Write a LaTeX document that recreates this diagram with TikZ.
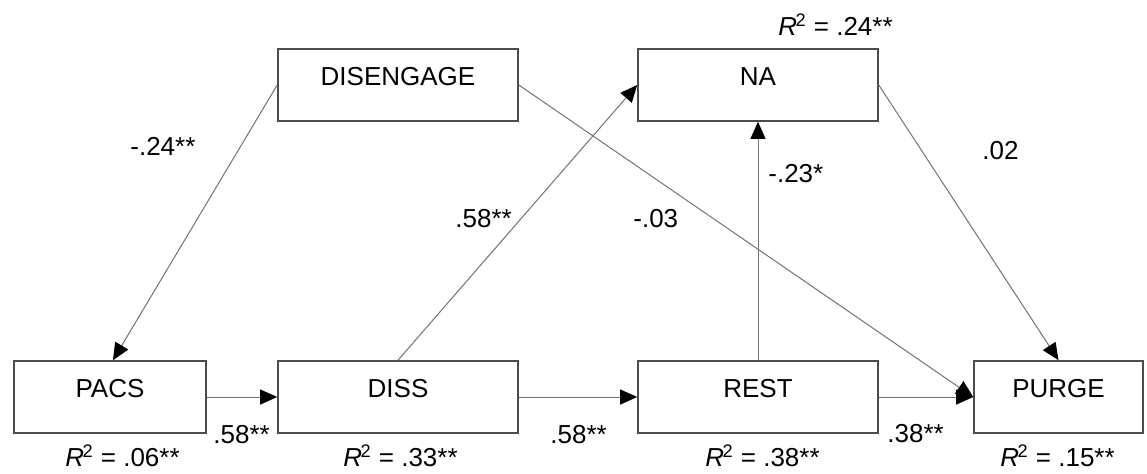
\documentclass[tikz,border=0pt]{standalone}
\usepackage{fontspec}
\setmainfont{Liberation Sans}
\usetikzlibrary{arrows.meta}
\newcommand\rsq[1]{\textit{R}\kern-0.8pt\textsuperscript{2} = #1}
\begin{document}
\begin{tikzpicture}[x=0.5pt,y=-0.5pt,
  txt/.style={font=\fontsize{13}{15}\selectfont},
  var/.style={txt, draw=black!70, line width=0.8pt, rectangle,
    minimum width=120pt, minimum height=36pt, inner sep=0pt,
    text height=5pt, text depth=5pt},
  coef/.style={txt, inner sep=0pt, anchor=base west},
  path/.style={draw=black!55, line width=0.5pt,
    -{Triangle[length=8.5pt,width=7.5pt,color=black]}}
]
% canvas
\path[use as bounding box, fill=white] (0,0) rectangle (1147,473);

% variables
\node[var] (dis)   at (398,85)    {DISENGAGE};
\node[var] (na)    at (758,85)    {NA};
\node[var, minimum width=96pt] (pacs) at (110,397) {PACS};
\node[var] (diss)  at (398,397)   {DISS};
\node[var] (rest)  at (758,397)   {REST};
\node[var, minimum width=84.5pt] (purge) at (1058.5,397) {PURGE};

% paths
\draw[path] (dis.west) -- ([xshift=1.5pt]pacs.north);
\draw[path] (dis.east) -- (purge.west);
\draw[path] (diss.north) -- (na.west);
\draw[path] (rest.north) -- (na.south);
\draw[path] (na.east) -- (purge.north);
\draw[path] (pacs.east) -- (diss.west);
\draw[path] (diss.east) -- (rest.west);
\draw[path] (rest.east) -- (purge.west);

% path coefficients
\node[coef] (c1) at (130,155) {-.24**};
\node[coef] (c2) at (455,227) {.58**};
\node[coef] (c3) at (633,227) {-.03};
\node[coef] (c4) at (768,182) {-.23*};
\node[coef] (c5) at (982,159) {.02};
\node[coef] (c6) at (213,443) {.58**};
\node[coef] (c7) at (550,443) {.58**};
\node[coef] (c8) at (887,442) {.38**};

% explained variance
\node[coef] (r1) at (65,466)   {\rsq{.06**}};
\node[coef] (r2) at (343,466)  {\rsq{.33**}};
\node[coef] (r3) at (705,466)  {\rsq{.38**}};
\node[coef] (r4) at (1000,466) {\rsq{.15**}};
\node[coef] (r5) at (778,35)   {\rsq{.24**}};
\end{tikzpicture}
\end{document}
